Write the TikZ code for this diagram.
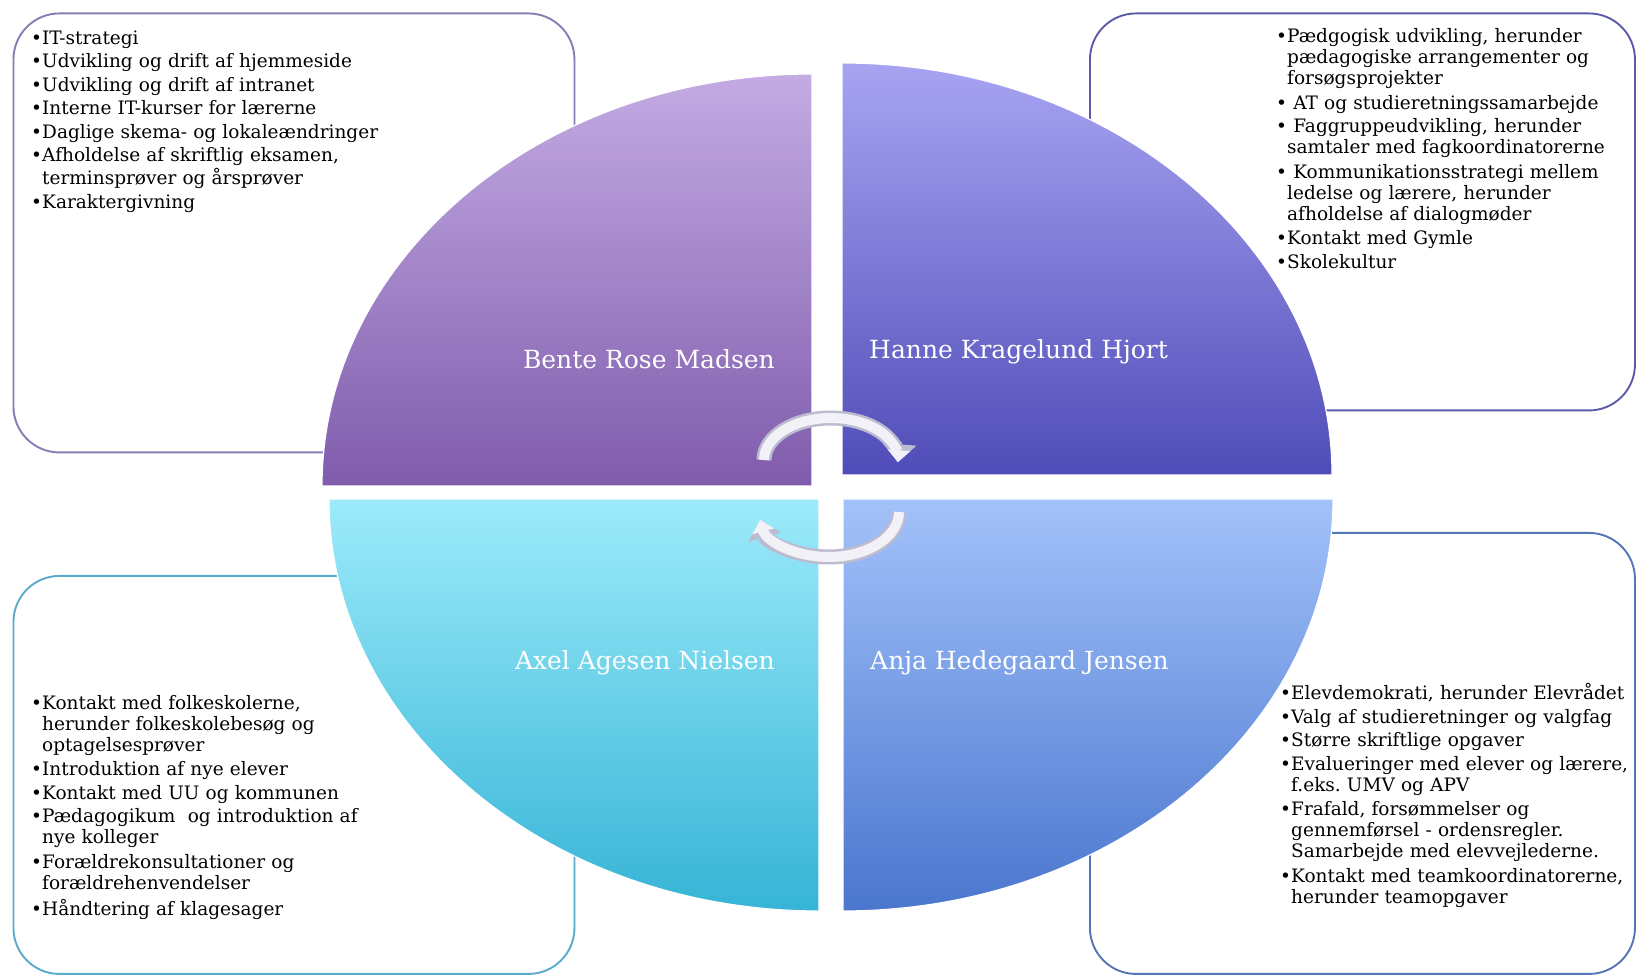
\documentclass[tikz,border=0pt]{standalone}
\usepackage{fontspec}
\setmainfont{DejaVu Serif}
\usetikzlibrary{arrows.meta}
\definecolor{boxa}{HTML}{8B7BB5}
\definecolor{boxb}{HTML}{5B5BA9}
\definecolor{boxc}{HTML}{5AAAC9}
\definecolor{boxd}{HTML}{5576B5}
\definecolor{qatop}{HTML}{C4ABE3}
\definecolor{qabot}{HTML}{7F5CAC}
\definecolor{qbtop}{HTML}{A8A4F2}
\definecolor{qbbot}{HTML}{4F4CB8}
\definecolor{qctop}{HTML}{9CEBFA}
\definecolor{qcbot}{HTML}{36B4D6}
\definecolor{qdtop}{HTML}{A3C2FA}
\definecolor{qdbot}{HTML}{4A76CE}
\definecolor{turnedge}{HTML}{BDBBCF}
\definecolor{turnfill}{HTML}{F2F1F8}
\newcommand{\itm}[1]{\par\noindent\hbox to 11pt{\textbullet\hss}\begin{tabular}[t]{@{}l@{}}#1\end{tabular}}
\begin{document}
\begin{tikzpicture}[x=1pt, y=1pt,
  box/.style={draw, rounded corners=46pt, line width=1.9pt, fill=white, anchor=north west, inner sep=0pt},
  lst/.style={anchor=north west, inner sep=0pt, text width=420pt, align=left,
    font=\fontsize{18.5}{21}\selectfont, execute at begin node={\setlength{\parskip}{2.5pt}}},
  quad/.style={draw=white, line width=1.2pt},
  who/.style={text=white, inner sep=0pt, text height=18pt, text depth=5pt, font=\fontsize{25}{30}\selectfont},
  turn/.style={line width=15pt, color=turnedge, -{Triangle[width=0pt 2.2, length=0pt 1.2]}},
  turnin/.style={line width=10pt, color=turnfill, -{Triangle[width=0pt 2.2, length=0pt 1.2]}}]
\fill[white] (0,0) rectangle (1637,976);
\useasboundingbox (0,0) rectangle (1637,976);
\node[box, draw=boxa, minimum width=561pt, minimum height=439pt] (box0) at (12.5,963.5) {};
\node[box, draw=boxb, minimum width=545pt, minimum height=397pt] (box1) at (1089,963.5) {};
\node[box, draw=boxc, minimum width=561pt, minimum height=398pt] (box2) at (12.5,401) {};
\node[box, draw=boxd, minimum width=545pt, minimum height=441pt] (box3) at (1089,444) {};
\node[lst] (lst0) at (31,955.5) {\itm{IT-strategi}
\itm{Udvikling og drift af hjemmeside}
\itm{Udvikling og drift af intranet}
\itm{Interne IT-kurser for lærerne}
\itm{Daglige skema- og lokaleændringer}
\itm{Afholdelse af skriftlig eksamen,\\ terminsprøver og årsprøver}
\itm{Karaktergivning}};
\node[lst] (lst1) at (1276,957) {\itm{Pædgogisk udvikling, herunder\\ pædagogiske arrangementer og\\ forsøgsprojekter}
\itm{\ AT og studieretningssamarbejde}
\itm{\ Faggruppeudvikling, herunder\\ samtaler med fagkoordinatorerne}
\itm{\ Kommunikationsstrategi mellem\\ ledelse og lærere, herunder\\ afholdelse af dialogmøder}
\itm{Kontakt med Gymle}
\itm{Skolekultur}};
\node[lst] (lst2) at (31,290.5) {\itm{Kontakt med folkeskolerne,\\ herunder folkeskolebesøg og\\ optagelsesprøver}
\itm{Introduktion af nye elever}
\itm{Kontakt med UU og kommunen}
\itm{Pædagogikum\ \ og introduktion af\\ nye kolleger}
\itm{Forældrekonsultationer og\\ forældrehenvendelser}
\itm{Håndtering af klagesager}};
\node[lst] (lst3) at (1280,300) {\itm{Elevdemokrati, herunder Elevrådet}
\itm{Valg af studieretninger og valgfag}
\itm{Større skriftlige opgaver}
\itm{Evalueringer med elever og lærere,\\ f.eks.\ UMV og APV}
\itm{Frafald, forsømmelser og\\ gennemførsel - ordensregler.\\ Samarbejde med elevvejlederne.}
\itm{Kontakt med teamkoordinatorerne,\\ herunder teamopgaver}};
\path[quad, top color=qatop, bottom color=qabot] (812,490) -- (322,490) arc[start angle=180, end angle=90, x radius=490, y radius=412] -- cycle;
\path[quad, top color=qbtop, bottom color=qbbot] (842,501) -- (842,913) arc[start angle=90, end angle=0, x radius=490, y radius=412] -- cycle;
\path[quad, top color=qctop, bottom color=qcbot] (819,477) -- (329,477) arc[start angle=180, end angle=270, x radius=490, y radius=412] -- cycle;
\path[quad, top color=qdtop, bottom color=qdbot] (843,477) -- (1333,477) arc[start angle=0, end angle=-90, x radius=490, y radius=412] -- cycle;
\node[who, anchor=east] (who0) at (775,614) {Bente Rose Madsen};
\node[who, anchor=west] (who1) at (869,624) {Hanne Kragelund Hjort};
\node[who, anchor=east] (who2) at (775,313) {Axel Agesen Nielsen};
\node[who, anchor=west] (who3) at (870,313) {Anja Hedegaard Jensen};
\draw[turn] (764,516) arc[start angle=180, end angle=-3, x radius=67, y radius=42];
\draw[turnin] (764,516) arc[start angle=180, end angle=-3, x radius=67, y radius=42];
\draw[turn] (899,464) arc[start angle=0, end angle=-170, x radius=70, y radius=45];
\draw[turnin] (899,464) arc[start angle=0, end angle=-170, x radius=70, y radius=45];
\end{tikzpicture}
\end{document}
